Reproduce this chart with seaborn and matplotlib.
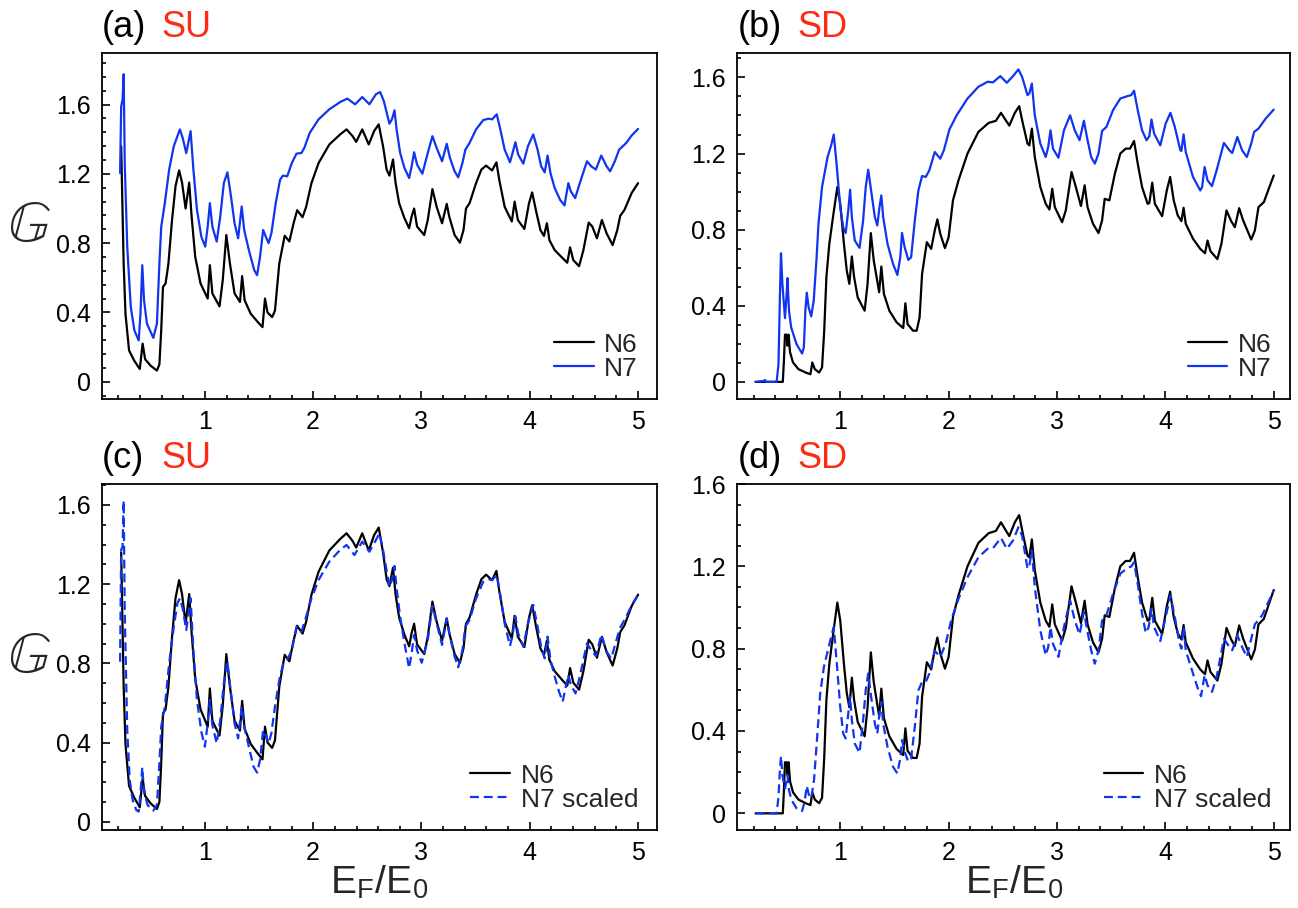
import numpy as np
import pandas as pd
import seaborn as sns
import matplotlib.pyplot as plt
from matplotlib.ticker import MultipleLocator, FixedLocator

# ---- data ----
# SU, N6 (used in panels a and c)
su_n6_x = [0.227, 0.250, 0.267, 0.300, 0.349, 0.399, 0.425, 0.448, 0.498, 0.557, 0.580, 0.597, 0.613, 0.637,
           0.663, 0.696, 0.729, 0.762, 0.789, 0.822, 0.855, 0.878, 0.911, 0.960, 1.026, 1.046, 1.069, 1.135,
           1.165, 1.198, 1.231, 1.274, 1.324, 1.344, 1.367, 1.423, 1.489, 1.532, 1.555, 1.578, 1.621, 1.647,
           1.687, 1.737, 1.780, 1.819, 1.852, 1.902, 1.935, 1.984, 2.050, 2.149, 2.249, 2.308, 2.364, 2.397,
           2.453, 2.513, 2.562, 2.605, 2.645, 2.678, 2.704, 2.737, 2.761, 2.794, 2.843, 2.886, 2.909, 2.932,
           2.959, 3.025, 3.058, 3.101, 3.140, 3.190, 3.233, 3.256, 3.306, 3.355, 3.388, 3.411, 3.444, 3.504,
           3.553, 3.596, 3.652, 3.692, 3.718, 3.768, 3.834, 3.860, 3.890, 3.950, 3.993, 4.022, 4.059, 4.098,
           4.131, 4.158, 4.181, 4.230, 4.296, 4.346, 4.372, 4.402, 4.455, 4.495, 4.544, 4.577, 4.620, 4.666,
           4.709, 4.765, 4.808, 4.835, 4.874, 4.941, 5.0]
su_n6_y = [1.36, 0.68, 0.39, 0.18, 0.12, 0.073, 0.22, 0.13, 0.093, 0.064, 0.10, 0.30, 0.547, 0.567,
           0.68, 0.93, 1.13, 1.22, 1.15, 1.00, 1.15, 0.95, 0.72, 0.567, 0.48, 0.673, 0.51, 0.435,
           0.586, 0.847, 0.683, 0.51, 0.46, 0.61, 0.47, 0.393, 0.344, 0.315, 0.48, 0.40, 0.373, 0.41,
           0.683, 0.843, 0.81, 0.915, 0.99, 0.95, 1.01, 1.147, 1.263, 1.37, 1.428, 1.457, 1.418, 1.385,
           1.457, 1.37, 1.447, 1.486, 1.36, 1.225, 1.19, 1.283, 1.147, 1.03, 0.944, 0.886, 0.954, 1.00,
           0.896, 0.847, 0.934, 1.112, 1.01, 0.915, 1.027, 0.954, 0.847, 0.803, 0.876, 1.00, 1.031, 1.147,
           1.225, 1.248, 1.22, 1.267, 1.166, 1.01, 0.925, 1.04, 0.934, 0.882, 1.031, 1.093, 0.983, 0.876,
           0.842, 0.915, 0.818, 0.76, 0.718, 0.687, 0.776, 0.702, 0.667, 0.76, 0.919, 0.896, 0.828, 0.934,
           0.857, 0.789, 0.876, 0.958, 0.992, 1.09, 1.147]

# SU, N7 (panel a)
su_n7_x = [0.217, 0.227, 0.240, 0.250, 0.260, 0.283, 0.316, 0.349, 0.389, 0.405, 0.422, 0.438, 0.465, 0.524,
           0.557, 0.580, 0.597, 0.630, 0.670, 0.713, 0.769, 0.795, 0.828, 0.868, 0.894, 0.927, 0.967, 1.003,
           1.026, 1.046, 1.069, 1.109, 1.142, 1.175, 1.208, 1.241, 1.274, 1.307, 1.340, 1.363, 1.406, 1.456,
           1.482, 1.509, 1.538, 1.562, 1.588, 1.614, 1.654, 1.694, 1.720, 1.760, 1.803, 1.846, 1.892, 1.918,
           1.968, 2.050, 2.149, 2.249, 2.315, 2.387, 2.453, 2.519, 2.579, 2.618, 2.652, 2.704, 2.727, 2.751,
           2.770, 2.803, 2.843, 2.886, 2.909, 2.932, 2.959, 3.008, 3.058, 3.101, 3.140, 3.190, 3.233, 3.263,
           3.306, 3.339, 3.378, 3.405, 3.444, 3.504, 3.570, 3.619, 3.652, 3.695, 3.728, 3.768, 3.817, 3.841,
           3.867, 3.893, 3.940, 3.983, 4.032, 4.072, 4.105, 4.138, 4.164, 4.191, 4.230, 4.280, 4.320, 4.356,
           4.379, 4.419, 4.462, 4.528, 4.567, 4.610, 4.660, 4.709, 4.742, 4.785, 4.825, 4.891, 4.941, 5.0]
su_n7_y = [1.205, 1.59, 1.63, 1.776, 1.26, 0.78, 0.43, 0.296, 0.238, 0.39, 0.673, 0.47, 0.335, 0.253,
           0.335, 0.683, 0.896, 1.031, 1.225, 1.36, 1.457, 1.408, 1.32, 1.447, 1.225, 0.992, 0.838, 0.78,
           0.896, 1.031, 0.896, 0.809, 0.954, 1.147, 1.209, 1.07, 0.915, 0.828, 1.012, 0.876, 0.76, 0.644,
           0.615, 0.72, 0.876, 0.838, 0.80, 0.857, 1.031, 1.166, 1.19, 1.186, 1.263, 1.317, 1.321, 1.35,
           1.437, 1.515, 1.573, 1.615, 1.635, 1.602, 1.644, 1.602, 1.66, 1.673, 1.621, 1.49, 1.515, 1.567,
           1.457, 1.321, 1.234, 1.176, 1.244, 1.325, 1.254, 1.201, 1.321, 1.418, 1.35, 1.273, 1.374, 1.292,
           1.215, 1.18, 1.263, 1.34, 1.379, 1.457, 1.511, 1.519, 1.515, 1.544, 1.457, 1.34, 1.267, 1.321,
           1.383, 1.312, 1.259, 1.36, 1.428, 1.34, 1.244, 1.209, 1.306, 1.205, 1.118, 1.05, 1.018, 1.147,
           1.099, 1.06, 1.147, 1.273, 1.244, 1.225, 1.306, 1.244, 1.215, 1.273, 1.34, 1.379, 1.422, 1.46]

# SU, N7 scaled (panel c)
su_n7s_x = [0.217, 0.227, 0.240, 0.250, 0.260, 0.283, 0.306, 0.333, 0.366, 0.389, 0.405, 0.422, 0.438, 0.471,
            0.524, 0.557, 0.580, 0.597, 0.630, 0.670, 0.713, 0.746, 0.769, 0.795, 0.828, 0.868, 0.894, 0.927,
            0.967, 1.000, 1.026, 1.046, 1.069, 1.109, 1.142, 1.175, 1.208, 1.241, 1.274, 1.307, 1.340, 1.363,
            1.406, 1.449, 1.482, 1.509, 1.538, 1.565, 1.588, 1.614, 1.647, 1.687, 1.720, 1.760, 1.803, 1.846,
            1.892, 1.935, 1.984, 2.050, 2.149, 2.249, 2.308, 2.381, 2.453, 2.519, 2.579, 2.612, 2.645, 2.704,
            2.727, 2.751, 2.770, 2.803, 2.843, 2.886, 2.909, 2.932, 2.959, 3.002, 3.058, 3.101, 3.140, 3.190,
            3.233, 3.263, 3.306, 3.339, 3.378, 3.405, 3.444, 3.504, 3.570, 3.619, 3.652, 3.695, 3.728, 3.768,
            3.817, 3.841, 3.867, 3.893, 3.940, 3.983, 4.032, 4.072, 4.105, 4.138, 4.164, 4.191, 4.230, 4.270,
            4.303, 4.356, 4.379, 4.422, 4.462, 4.528, 4.567, 4.610, 4.660, 4.709, 4.752, 4.792, 4.831, 4.891,
            4.941, 5.0]
su_n7s_y = [0.808, 1.373, 1.39, 1.622, 1.053, 0.463, 0.21, 0.109, 0.059, 0.051, 0.143, 0.275, 0.152, 0.084,
            0.056, 0.084, 0.295, 0.48, 0.581, 0.80, 0.985, 1.103, 1.128, 1.078, 0.968, 1.128, 0.867, 0.615,
            0.455, 0.379, 0.497, 0.615, 0.488, 0.396, 0.514, 0.699, 0.808, 0.648, 0.497, 0.421, 0.581, 0.48,
            0.379, 0.278, 0.248, 0.312, 0.463, 0.429, 0.396, 0.446, 0.581, 0.716, 0.792, 0.817, 0.867, 0.985,
            0.96, 1.036, 1.128, 1.221, 1.314, 1.373, 1.398, 1.347, 1.415, 1.364, 1.423, 1.457, 1.373, 1.187,
            1.221, 1.292, 1.179, 1.036, 0.901, 0.775, 0.851, 0.943, 0.867, 0.803, 0.918, 1.09, 1.002, 0.893,
            1.027, 0.935, 0.834, 0.78, 0.867, 0.985, 1.019, 1.128, 1.213, 1.224, 1.221, 1.246, 1.145, 1.002,
            0.888, 0.943, 1.036, 0.952, 0.884, 1.002, 1.095, 0.985, 0.884, 0.825, 0.935, 0.817, 0.733, 0.657,
            0.606, 0.741, 0.691, 0.648, 0.733, 0.901, 0.867, 0.837, 0.943, 0.859, 0.825, 0.901, 0.977, 1.036,
            1.095, 1.145]

# SD, N6 (used in panels b and d)
sd_n6_x = [0.218, 0.470, 0.480, 0.490, 0.507, 0.513, 0.523, 0.537, 0.564, 0.614, 0.681, 0.725, 0.742, 0.765,
           0.805, 0.832, 0.852, 0.872, 0.899, 0.933, 0.973, 1.000, 1.034, 1.060, 1.084, 1.107, 1.128, 1.161,
           1.225, 1.252, 1.282, 1.309, 1.359, 1.379, 1.403, 1.453, 1.520, 1.581, 1.601, 1.621, 1.671, 1.705,
           1.732, 1.755, 1.799, 1.839, 1.872, 1.896, 1.923, 1.966, 2.000, 2.040, 2.091, 2.174, 2.275, 2.369,
           2.436, 2.483, 2.527, 2.560, 2.611, 2.651, 2.685, 2.728, 2.745, 2.768, 2.795, 2.846, 2.896, 2.930,
           2.956, 2.980, 3.047, 3.081, 3.134, 3.174, 3.221, 3.255, 3.282, 3.332, 3.383, 3.416, 3.440, 3.483,
           3.534, 3.584, 3.634, 3.674, 3.711, 3.745, 3.785, 3.836, 3.852, 3.879, 3.903, 3.970, 4.013, 4.044,
           4.077, 4.114, 4.148, 4.168, 4.188, 4.255, 4.322, 4.366, 4.389, 4.416, 4.480, 4.517, 4.564, 4.607,
           4.641, 4.681, 4.718, 4.792, 4.826, 4.859, 4.909, 4.960, 5.0]
sd_n6_y = [0.0, 0.0, 0.11, 0.248, 0.248, 0.19, 0.248, 0.155, 0.102, 0.067, 0.049, 0.04, 0.102, 0.067,
           0.049, 0.076, 0.269, 0.55, 0.725, 0.866, 1.024, 0.936, 0.725, 0.585, 0.515, 0.659, 0.55, 0.444,
           0.374, 0.515, 0.782, 0.638, 0.471, 0.606, 0.462, 0.374, 0.313, 0.283, 0.413, 0.304, 0.269, 0.269,
           0.339, 0.567, 0.734, 0.699, 0.796, 0.854, 0.778, 0.703, 0.76, 0.954, 1.059, 1.2, 1.314, 1.361,
           1.372, 1.414, 1.375, 1.347, 1.414, 1.449, 1.358, 1.252, 1.243, 1.331, 1.182, 1.024, 0.936, 0.906,
           1.015, 0.918, 0.839, 0.901, 1.103, 1.024, 0.924, 1.033, 0.918, 0.831, 0.782, 0.848, 0.962, 0.954,
           1.094, 1.2, 1.226, 1.226, 1.266, 1.147, 1.024, 0.936, 0.94, 1.047, 0.936, 0.871, 1.006, 1.077,
           0.954, 0.875, 0.845, 0.915, 0.831, 0.752, 0.699, 0.676, 0.743, 0.687, 0.645, 0.725, 0.901, 0.845,
           0.813, 0.913, 0.848, 0.748, 0.796, 0.918, 0.945, 1.024, 1.085]

# SD, N7 (panel b)
sd_n7_x = [0.218, 0.295, 0.305, 0.315, 0.413, 0.430, 0.443, 0.453, 0.466, 0.490, 0.503, 0.513, 0.527, 0.547,
           0.597, 0.648, 0.664, 0.678, 0.691, 0.708, 0.732, 0.755, 0.782, 0.799, 0.832, 0.883, 0.916, 0.940,
           0.966, 1.000, 1.027, 1.050, 1.074, 1.091, 1.107, 1.134, 1.178, 1.211, 1.235, 1.258, 1.285, 1.319,
           1.342, 1.362, 1.379, 1.396, 1.436, 1.487, 1.527, 1.554, 1.570, 1.594, 1.628, 1.654, 1.688, 1.721,
           1.755, 1.789, 1.822, 1.872, 1.923, 1.956, 2.007, 2.074, 2.174, 2.275, 2.359, 2.409, 2.477, 2.537,
           2.594, 2.644, 2.678, 2.728, 2.745, 2.768, 2.795, 2.846, 2.896, 2.919, 2.940, 2.963, 3.013, 3.064,
           3.121, 3.164, 3.208, 3.248, 3.282, 3.315, 3.349, 3.383, 3.416, 3.456, 3.517, 3.584, 3.651, 3.685,
           3.711, 3.745, 3.785, 3.826, 3.852, 3.872, 3.896, 3.953, 4.003, 4.047, 4.087, 4.138, 4.148, 4.168,
           4.188, 4.255, 4.322, 4.339, 4.362, 4.389, 4.430, 4.473, 4.540, 4.591, 4.617, 4.664, 4.708, 4.752,
           4.792, 4.819, 4.859, 4.926, 5.0]
sd_n7_y = [0.0, 0.005, 0.01, 0.0, 0.0, 0.093, 0.444, 0.676, 0.515, 0.335, 0.444, 0.546, 0.374, 0.286,
           0.198, 0.149, 0.181, 0.374, 0.469, 0.392, 0.344, 0.427, 0.655, 0.831, 1.024, 1.182, 1.243, 1.30,
           1.147, 0.918, 0.813, 0.782, 0.901, 1.01, 0.866, 0.743, 0.704, 0.848, 1.024, 1.115, 1.006, 0.866,
           0.822, 0.918, 0.98, 0.866, 0.725, 0.62, 0.562, 0.655, 0.783, 0.708, 0.641, 0.655, 0.848, 1.006,
           1.082, 1.077, 1.112, 1.208, 1.173, 1.217, 1.326, 1.401, 1.489, 1.551, 1.577, 1.574, 1.607, 1.572,
           1.607, 1.642, 1.603, 1.507, 1.516, 1.568, 1.401, 1.252, 1.182, 1.235, 1.322, 1.226, 1.178, 1.322,
           1.401, 1.322, 1.27, 1.372, 1.27, 1.182, 1.147, 1.20, 1.319, 1.34, 1.428, 1.489, 1.502, 1.507,
           1.53, 1.428, 1.322, 1.27, 1.291, 1.379, 1.305, 1.243, 1.358, 1.414, 1.34, 1.217, 1.214, 1.301,
           1.208, 1.077, 1.006, 1.024, 1.129, 1.059, 1.029, 1.112, 1.256, 1.217, 1.203, 1.287, 1.217, 1.182,
           1.252, 1.314, 1.331, 1.384, 1.431]

# SD, N7 scaled (panel d)
sd_n7s_x = [0.218, 0.413, 0.430, 0.443, 0.453, 0.466, 0.490, 0.503, 0.513, 0.527, 0.550, 0.597, 0.648, 0.671,
            0.691, 0.711, 0.732, 0.758, 0.785, 0.815, 0.849, 0.893, 0.916, 0.940, 0.966, 1.000, 1.027, 1.050,
            1.074, 1.091, 1.107, 1.134, 1.178, 1.211, 1.235, 1.258, 1.285, 1.319, 1.342, 1.362, 1.379, 1.396,
            1.436, 1.487, 1.527, 1.554, 1.570, 1.594, 1.628, 1.654, 1.688, 1.721, 1.755, 1.789, 1.822, 1.872,
            1.923, 1.973, 2.023, 2.091, 2.174, 2.275, 2.359, 2.409, 2.483, 2.537, 2.594, 2.644, 2.678, 2.728,
            2.745, 2.768, 2.795, 2.846, 2.896, 2.919, 2.940, 2.963, 3.013, 3.064, 3.121, 3.164, 3.208, 3.248,
            3.282, 3.315, 3.349, 3.383, 3.416, 3.456, 3.517, 3.584, 3.651, 3.685, 3.711, 3.745, 3.785, 3.819,
            3.846, 3.872, 3.896, 3.953, 4.003, 4.047, 4.087, 4.128, 4.148, 4.168, 4.188, 4.255, 4.305, 4.329,
            4.362, 4.389, 4.430, 4.473, 4.540, 4.591, 4.617, 4.664, 4.708, 4.752, 4.792, 4.826, 4.893, 4.943,
            5.0]
sd_n7s_y = [0.0, 0.0, 0.081, 0.21, 0.278, 0.186, 0.121, 0.154, 0.186, 0.113, 0.065, 0.024, 0.011, 0.057,
            0.133, 0.089, 0.073, 0.162, 0.356, 0.582, 0.711, 0.808, 0.857, 0.905, 0.743, 0.517, 0.388, 0.364,
            0.485, 0.566, 0.453, 0.339, 0.294, 0.453, 0.598, 0.679, 0.566, 0.436, 0.388, 0.485, 0.541, 0.436,
            0.323, 0.226, 0.194, 0.267, 0.356, 0.299, 0.251, 0.267, 0.42, 0.598, 0.638, 0.638, 0.679, 0.789,
            0.76, 0.824, 0.937, 1.042, 1.147, 1.244, 1.285, 1.288, 1.338, 1.285, 1.325, 1.39, 1.349, 1.188,
            1.204, 1.277, 1.099, 0.889, 0.768, 0.808, 0.905, 0.824, 0.76, 0.905, 1.034, 0.937, 0.869, 0.978,
            0.881, 0.792, 0.727, 0.792, 0.937, 0.962, 1.067, 1.164, 1.193, 1.199, 1.22, 1.115, 0.97, 0.876,
            0.905, 0.994, 0.905, 0.837, 0.954, 1.059, 0.954, 0.832, 0.80, 0.905, 0.792, 0.679, 0.598, 0.569,
            0.671, 0.622, 0.59, 0.663, 0.848, 0.808, 0.792, 0.865, 0.808, 0.76, 0.848, 0.918, 0.962, 1.018,
            1.083]

panel_tags = ["(a)", "(b)", "(c)", "(d)"]
panel_kinds = ["SU", "SD", "SU", "SD"]
y_major = [0, 0.4, 0.8, 1.2, 1.6]

# ---- styling ----
sns.set_style("ticks")
plt.rcParams['font.family'] = ['Liberation Sans', 'DejaVu Sans']
plt.rcParams['mathtext.fontset'] = 'stix'

BLUE = '#1034f0'
RED = '#ff2a14'

fig = plt.figure(figsize=(12.98, 9.08), dpi=100)
W, H = 1298.0, 908.0
boxes = [(102, 52.7, 656.5, 399), (737.3, 52.7, 1290, 399),
         (102, 484, 656.5, 830), (737.3, 484, 1290, 830)]
axes = []
for l, t, r, b in boxes:
    axes.append(fig.add_axes([l / W, 1 - b / H, (r - l) / W, (b - t) / H]))

ylims = [(-0.1, 1.9), (-0.09, 1.73), (-0.042, 1.706), (-0.081, 1.6)]
y_minor = [0.08, 0.1, 0.1, 0.1]
xlims = [(0.05, 5.17), (0.05, 5.15), (0.05, 5.17), (0.05, 5.15)]


def draw(ax, x, y, label, color, dashed=False):
    df = pd.DataFrame({'x': x, 'y': y})
    sns.lineplot(data=df, x='x', y='y', ax=ax, sort=False, estimator=None,
                 color=color, lw=1.6, label=label,
                 linestyle=(0, (4, 2.2)) if dashed else '-')


draw(axes[0], su_n6_x, su_n6_y, 'N6', 'black')
draw(axes[0], su_n7_x, su_n7_y, 'N7', BLUE)
draw(axes[1], sd_n6_x, sd_n6_y, 'N6', 'black')
draw(axes[1], sd_n7_x, sd_n7_y, 'N7', BLUE)
draw(axes[2], su_n6_x, su_n6_y, 'N6', 'black')
draw(axes[2], su_n7s_x, su_n7s_y, 'N7 scaled', BLUE, dashed=True)
draw(axes[3], sd_n6_x, sd_n6_y, 'N6', 'black')
draw(axes[3], sd_n7s_x, sd_n7s_y, 'N7 scaled', BLUE, dashed=True)

for i, ax in enumerate(axes):
    ax.set_xlim(*xlims[i])
    ax.set_ylim(*ylims[i])
    ax.xaxis.set_major_locator(FixedLocator([1, 2, 3, 4, 5]))
    ax.xaxis.set_minor_locator(MultipleLocator(0.2))
    ax.yaxis.set_major_locator(FixedLocator(y_major))
    ax.yaxis.set_minor_locator(MultipleLocator(y_minor[i]))
    ax.set_xticklabels(['1', '2', '3', '4', '5'])
    ax.set_yticklabels(['0', '0.4', '0.8', '1.2', '1.6'])
    ax.tick_params(which='both', direction='in', top=False, right=False,
                   labelsize=18, width=1.2, colors='black')
    ax.tick_params(which='major', length=6, pad=8)
    ax.tick_params(which='minor', length=3)
    for s in ax.spines.values():
        s.set_visible(True)
        s.set_linewidth(1.3)
        s.set_color('black')
    ax.set_xlabel('')
    ax.set_ylabel('')
    ax.text(0.0, 1.045, panel_tags[i], transform=ax.transAxes, fontsize=26,
            color='black', ha='left', va='baseline')
    ax.text(0.108, 1.045, panel_kinds[i], transform=ax.transAxes, fontsize=26,
            color=RED, ha='left', va='baseline')
    ax.legend(loc='lower right', frameon=False, fontsize=19, handlelength=1.5,
              labelspacing=0.0, borderaxespad=0.3, handletextpad=0.4)

for ax in (axes[0], axes[2]):
    ax.set_ylabel(r'$\mathbb{G}$', fontsize=42, rotation=0, va='center', ha='center')
    ax.yaxis.set_label_coords(-0.13, 0.5)

for ax in (axes[2], axes[3]):
    ax.set_xlabel(r'E$_\mathregular{F}$/E$_\mathregular{0}$', fontsize=28)
    ax.xaxis.set_label_coords(0.5, -0.1)

fig.savefig('out.png', dpi=100)
